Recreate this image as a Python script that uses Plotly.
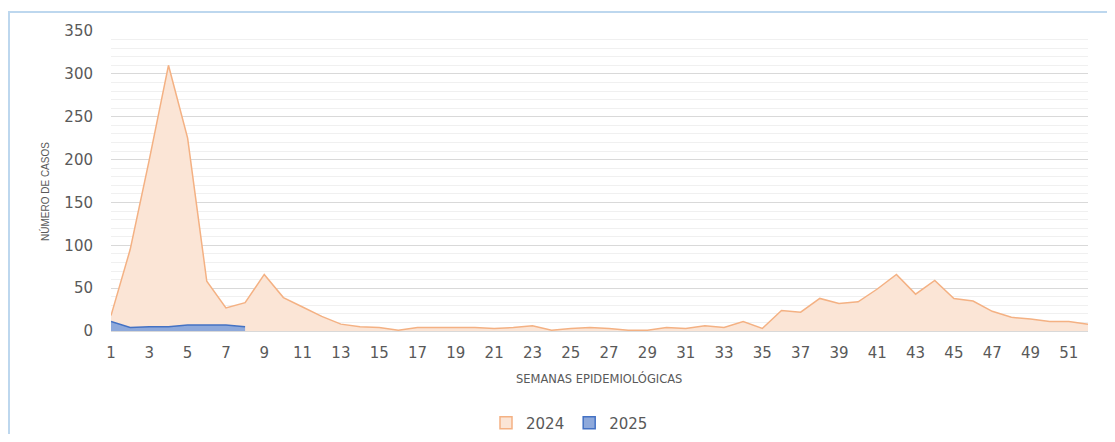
import plotly.graph_objects as go

weeks = list(range(1, 53))
cases_2024 = [18, 95, 200, 310, 225, 58, 27, 33, 66, 39, 28, 17, 8, 5, 4, 1, 4, 4, 4, 4,
              3, 4, 6, 1, 3, 4, 3, 1, 1, 4, 3, 6, 4, 11, 3, 24, 22, 38, 32, 34,
              49, 66, 43, 59, 38, 35, 23, 16, 14, 11, 11, 8]
weeks_2025 = [1, 2, 3, 4, 5, 6, 7, 8]
cases_2025 = [11, 4, 5, 5, 7, 7, 7, 5]
x_tick_vals = list(range(1, 53, 2))
y_tick_vals = [0, 50, 100, 150, 200, 250, 300, 350]

OFF = 8  # page body margin
W, H = 1115 - 2 * OFF, 442 - 2 * OFF
PL, PR, PT, PB = 111, 1088, 31, 331  # plot area in page pixels
L, T = PL - OFF, PT - OFF
R, B = W - (PR - OFF), H - (PB - OFF)
pw, ph = PR - PL, PB - PT

def px(x):
    return (x - PL) / pw

def py(y):
    return (PB - y) / ph

TICK_FONT = dict(family="DejaVu Sans, sans-serif", size=15, color="#595959")

fig = go.Figure()
fig.add_trace(go.Scatter(
    x=weeks, y=cases_2024, name="2024", mode="lines",
    line=dict(color="#F4B183", width=1.5), showlegend=False,
    fill="tozeroy", fillcolor="#FBE5D6"))
fig.add_trace(go.Scatter(
    x=weeks_2025, y=cases_2025, name="2025", mode="lines",
    line=dict(color="#4472C4", width=1.5), showlegend=False,
    fill="tozeroy", fillcolor="#8EA9DB"))
# legend swatches
fig.add_trace(go.Bar(x=[None], y=[None], name="2024",
                     marker=dict(color="#FBE5D6", line=dict(color="#F4B183", width=1.5))))
fig.add_trace(go.Bar(x=[None], y=[None], name="2025",
                     marker=dict(color="#8EA9DB", line=dict(color="#4472C4", width=1.5))))

fig.update_layout(
    width=W, height=H,
    margin=dict(l=L, r=R, t=T, b=B, autoexpand=False),
    paper_bgcolor="white", plot_bgcolor="white",
    font=dict(family="DejaVu Sans, sans-serif", color="#595959", size=15),
    showlegend=True,
    legend=dict(orientation="h", x=px(486), xanchor="left", y=py(423), yanchor="middle",
                font=TICK_FONT, itemwidth=30, traceorder="normal"),
    xaxis=dict(range=[1, 52], tickvals=x_tick_vals, ticktext=[str(v) for v in x_tick_vals],
               showgrid=False, zeroline=False, showline=True, linecolor="#d9d9d9",
               ticks="", tickfont=TICK_FONT, automargin=False, ticklabelstandoff=8),
    yaxis=dict(range=[0, 350], tickvals=y_tick_vals, showgrid=True, gridcolor="#d9d9d9",
               zeroline=False, showline=False, ticks="", ticklabelstandoff=17,
               tickfont=TICK_FONT, automargin=False,
               minor=dict(dtick=10, showgrid=True, gridcolor="#f0f0f0")),
    annotations=[
        dict(text="SEMANAS EPIDEMIOLÓGICAS", x=px(599), y=py(378), xref="paper", yref="paper",
             showarrow=False, xanchor="center", yanchor="middle",
             font=dict(family="DejaVu Sans, sans-serif", size=11.5, color="#595959")),
        dict(text="NÚMERO DE CASOS", x=px(45), y=py(192), xref="paper", yref="paper",
             showarrow=False, xanchor="center", yanchor="middle", textangle=-90,
             font=dict(family="Liberation Sans Narrow, Arial Narrow, sans-serif", size=10, color="#595959")),
    ],
    shapes=[dict(type="rect", xref="paper", yref="paper",
                 x0=px(9), x1=px(1130), y0=py(460), y1=py(12),
                 line=dict(color="#BDD7EE", width=2), fillcolor="rgba(0,0,0,0)", layer="below")],
)

fig.write_html("out.html")
